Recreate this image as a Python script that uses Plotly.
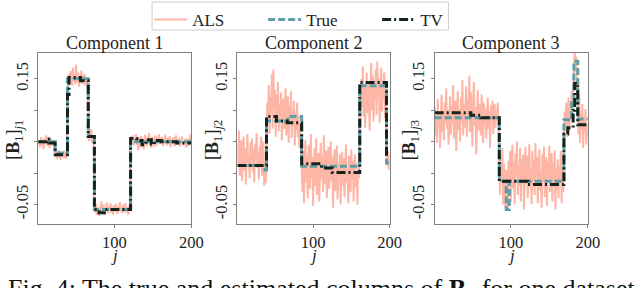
import plotly.graph_objects as go

# ---------------- data ----------------
j = list(range(1, 201))

als_1 = [0.046, 0.052, 0.041, 0.049, 0.057, 0.044, 0.050, 0.038, 0.055, 0.047, 0.060, 0.052, 0.043, 0.058, 0.049, 0.040, 0.054, 0.046, 0.051, 0.043,
         0.048, 0.036, 0.027, 0.034, 0.022, 0.030, 0.025, 0.036, 0.028, 0.021, 0.033, 0.026, 0.031, 0.024, 0.035, 0.029, 0.023, 0.032, 0.128, 0.146,
         0.158, 0.143, 0.162, 0.151, 0.139, 0.168, 0.147, 0.156, 0.141, 0.172, 0.150, 0.144, 0.160, 0.137, 0.153, 0.148, 0.163, 0.142, 0.155, 0.146,
         0.158, 0.139, 0.151, 0.143, 0.149, 0.062, 0.051, 0.066, 0.055, 0.070, 0.048, 0.059, 0.053, -0.052, -0.063, -0.049, -0.066, -0.055, -0.060, -0.068,
         -0.054, -0.062, -0.045, -0.065, -0.058, -0.050, -0.067, -0.056, -0.061, -0.047, -0.059, -0.064, -0.052, -0.060, -0.048, -0.063, -0.057, -0.066, -0.051, -0.059,
         -0.062, -0.049, -0.058, -0.065, -0.053, -0.060, -0.046, -0.061, -0.055, -0.064, -0.050, -0.059, -0.062, -0.048, -0.057, -0.063, -0.054, -0.066, -0.052, -0.060,
         0.047, 0.058, 0.052, 0.060, 0.044, 0.055, 0.049, 0.062, 0.045, 0.053, 0.036, 0.057, 0.048, 0.041, 0.059, 0.046, 0.054, 0.038, 0.051, 0.061,
         0.049, 0.043, 0.056, 0.050, 0.064, 0.045, 0.053, 0.040, 0.058, 0.047, 0.055, 0.042, 0.060, 0.051, 0.044, 0.057, 0.048, 0.062, 0.046, 0.053,
         0.050, 0.058, 0.043, 0.055, 0.047, 0.061, 0.049, 0.044, 0.056, 0.052, 0.046, 0.059, 0.041, 0.054, 0.050, 0.047, 0.057, 0.043, 0.052, 0.060,
         0.045, 0.053, 0.049, 0.056, 0.042, 0.051, 0.047, 0.058, 0.044, 0.050, 0.046, 0.054, 0.041, 0.049, 0.055, 0.043, 0.048, 0.052, 0.062, 0.050]

als_2 = [0.045, 0.012, 0.068, -0.005, 0.031, 0.052, -0.012, 0.024, 0.058, 0.004, 0.040, -0.018, 0.035, 0.062, 0.010, 0.027, -0.008, 0.049, 0.018, 0.055,
         0.002, 0.038, -0.015, 0.046, 0.021, 0.064, 0.008, 0.033, -0.010, 0.042, 0.015, 0.058, -0.004, 0.026, 0.050, -0.020, 0.019, -0.016, 0.070, 0.112,
         0.085, 0.140, 0.062, 0.120, 0.095, 0.158, 0.071, 0.165, 0.102, 0.132, 0.058, 0.125, 0.088, 0.145, 0.066, 0.110, 0.080, 0.128, 0.052, 0.098,
         0.118, 0.070, 0.105, 0.135, 0.060, 0.092, 0.122, 0.048, 0.108, 0.083, 0.130, 0.056, 0.100, 0.075, 0.115, 0.044, 0.095, 0.068, 0.112, 0.057,
         0.090, 0.040, 0.078, 0.050, 0.008, -0.030, 0.035, -0.048, 0.020, 0.052, -0.015, 0.030, -0.040, 0.045, 0.005, -0.025, 0.062, -0.008, 0.025, -0.052,
         0.015, 0.040, -0.020, 0.055, -0.035, 0.010, 0.032, -0.045, 0.022, 0.048, -0.010, 0.028, -0.030, 0.060, 0.002, -0.018, 0.036, -0.040, 0.018, 0.042,
         -0.025, 0.012, 0.050, -0.012, 0.026, -0.055, 0.008, 0.038, -0.028, 0.020, 0.044, -0.042, 0.015, -0.005, 0.030, -0.050, 0.010, 0.034, -0.020, 0.024,
         -0.038, 0.016, 0.046, -0.015, 0.005, -0.048, 0.028, 0.012, -0.030, 0.038, -0.010, 0.020, -0.045, 0.008, 0.030, -0.022, 0.002, -0.050, 0.018, -0.008,
         0.120, 0.085, 0.150, 0.105, 0.170, 0.090, 0.138, 0.072, 0.128, 0.160, 0.095, 0.145, 0.110, 0.068, 0.132, 0.175, 0.100, 0.155, 0.082, 0.140,
         0.118, 0.165, 0.092, 0.178, 0.125, 0.150, 0.080, 0.135, 0.168, 0.098, 0.142, 0.115, 0.160, 0.088, 0.130, 0.040, 0.012, 0.035, 0.005, 0.028]

als_3 = [0.105, 0.060, 0.092, 0.048, 0.118, 0.075, 0.098, 0.040, 0.085, 0.125, 0.066, 0.095, 0.052, 0.112, 0.080, 0.135, 0.070, 0.100, 0.045, 0.090,
         0.122, 0.062, 0.108, 0.078, 0.140, 0.055, 0.095, 0.115, 0.035, 0.088, 0.130, 0.068, 0.102, 0.050, 0.120, 0.082, 0.148, 0.060, 0.110, 0.072,
         0.098, 0.138, 0.058, 0.118, 0.085, 0.155, 0.065, 0.128, 0.092, 0.042, 0.115, 0.145, 0.075, 0.105, 0.030, 0.098, 0.132, 0.068, 0.110, 0.085,
         0.060, 0.125, 0.095, 0.048, 0.112, 0.078, 0.102, 0.055, 0.092, 0.120, 0.070, 0.098, 0.040, 0.108, 0.082, 0.115, 0.062, 0.095, 0.110, 0.072,
         0.100, 0.088, 0.112, 0.075, 0.010, -0.035, 0.025, -0.010, 0.040, -0.050, 0.015, -0.028, -0.055, 0.005, -0.040, -0.060, 0.020, -0.015, 0.035, -0.045,
         0.008, 0.045, -0.025, 0.018, -0.050, 0.032, -0.005, 0.050, -0.035, 0.012, -0.020, 0.040, -0.045, 0.022, -0.008, 0.030, -0.058, 0.015, 0.042, -0.018,
         0.028, -0.040, 0.010, 0.046, -0.022, 0.005, -0.050, 0.035, -0.012, 0.020, -0.035, 0.048, -0.005, 0.025, -0.048, 0.012, 0.038, -0.028, 0.002, -0.055,
         0.030, -0.015, 0.042, -0.038, 0.010, 0.025, -0.052, 0.018, -0.008, 0.044, -0.030, 0.006, 0.032, -0.045, 0.015, -0.020, 0.036, -0.058, 0.008, -0.025,
         0.022, -0.040, 0.012, -0.010, 0.035, -0.048, 0.005, -0.030, 0.060, 0.098, 0.075, 0.112, 0.058, 0.095, 0.120, 0.068, 0.105, 0.085, 0.130, 0.115,
         0.150, 0.175, 0.192, 0.160, 0.185, 0.140, 0.108, 0.062, 0.125, 0.048, 0.095, 0.070, 0.110, 0.040, 0.088, 0.065, 0.102, 0.045, 0.078, 0.058]

# piecewise-constant series: segment start index j and value (last entry closes at j=200)
true_1_j = [1, 23, 39, 66, 74, 121, 200]
true_1_v = [0.050, 0.032, 0.150, 0.058, -0.058, 0.050, 0.050]
tv_1_j = [1, 12, 15, 23, 39, 41, 56, 66, 74, 80, 87, 121, 129, 136, 141, 148, 152, 161, 181, 200]
tv_1_v = [0.050, 0.054, 0.048, 0.029, 0.125, 0.152, 0.147, 0.058, -0.058, -0.063, -0.058, 0.055, 0.052, 0.045, 0.053, 0.046, 0.052, 0.050, 0.048, 0.048]

true_2_j = [1, 37, 39, 67, 85, 161, 196, 200]
true_2_v = [0.012, 0.005, 0.083, 0.090, 0.011, 0.139, 0.016, 0.016]
tv_2_j = [1, 39, 52, 66, 85, 111, 125, 161, 196, 200]
tv_2_v = [0.012, 0.090, 0.083, 0.080, 0.015, 0.008, 0.001, 0.144, 0.030, 0.030]

true_3_j = [1, 85, 94, 98, 169, 179, 182, 187, 200]
true_3_v = [0.088, -0.013, -0.058, -0.013, 0.085, 0.115, 0.178, 0.086, 0.086]
tv_3_j = [1, 48, 61, 85, 122, 169, 174, 181, 183, 187, 200]
tv_3_v = [0.096, 0.092, 0.088, -0.013, -0.018, 0.062, 0.072, 0.100, 0.143, 0.077, 0.077]

titles = ["Component 1", "Component 2", "Component 3"]
y_tick_vals = [-0.05, 0.0, 0.05, 0.10, 0.15]
y_tick_text = ["-0.05", "", "", "", "0.15"]
x_tick_vals = [100, 200]
x_tick_text = ["100", "200"]
legend_names = ["ALS", "True", "TV"]

# ---------------- styling ----------------
W, H = 640, 288
FONT = "Liberation Serif"
C_ALS = "#fdb5a6"
C_TRUE = "#5f9ea6"
C_TV = "#14231d"
FRAME = "#7f7f7f"

px_x = [(39, 195), (242, 397), (443, 599)]
px_y = (53, 224)

fig = go.Figure()

als_all = [als_1, als_2, als_3]
true_all = [(true_1_j, true_1_v), (true_2_j, true_2_v), (true_3_j, true_3_v)]
tv_all = [(tv_1_j, tv_1_v), (tv_2_j, tv_2_v), (tv_3_j, tv_3_v)]

for k in range(3):
    xa = "x" if k == 0 else f"x{k+1}"
    ya = "y" if k == 0 else f"y{k+1}"
    show = k == 0
    fig.add_trace(go.Scatter(x=j[:len(als_all[k])], y=als_all[k], mode="lines",
                             line=dict(color=C_ALS, width=2), name=legend_names[0],
                             legendgroup="als", showlegend=show, xaxis=xa, yaxis=ya))
    fig.add_trace(go.Scatter(x=true_all[k][0], y=true_all[k][1], mode="lines", line_shape="hv",
                             line=dict(color=C_TRUE, width=3, dash="7px,3px"), name=legend_names[1],
                             legendgroup="true", showlegend=show, xaxis=xa, yaxis=ya))
    fig.add_trace(go.Scatter(x=tv_all[k][0], y=tv_all[k][1], mode="lines", line_shape="hv",
                             line=dict(color=C_TV, width=3, dash="9px,3px,2px,3px"), name=legend_names[2],
                             legendgroup="tv", showlegend=show, xaxis=xa, yaxis=ya))

axis_common = dict(showline=True, mirror=True, linecolor=FRAME, linewidth=1, ticks="outside",
                   ticklen=3, tickcolor=FRAME, showgrid=False, zeroline=False,
                   tickfont=dict(family=FONT, size=16.5, color="#222"))

ydom = [1 - px_y[1] / H, 1 - px_y[0] / H]
layout = dict(width=W, height=H, margin=dict(l=0, r=0, t=0, b=0),
              plot_bgcolor="white", paper_bgcolor="white", showlegend=True,
              legend=dict(orientation="h", x=152 / W, xanchor="left", y=1 - 2 / H, yanchor="top",
                          bordercolor="rgba(0,0,0,0)", borderwidth=0, bgcolor="rgba(0,0,0,0)",
                          font=dict(family=FONT, size=17, color="#222"),
                          itemwidth=33, tracegroupgap=0, entrywidth=66))

# legend frame (box around the legend entries)
shapes = [dict(type="rect", xref="paper", yref="paper", x0=155 / W, x1=457 / W,
               y0=1 - 30 / H, y1=1 - 2 / H, line=dict(color="#cccccc", width=1),
               fillcolor="rgba(0,0,0,0)", layer="below")]

annotations = []
for k in range(3):
    xk = "xaxis" if k == 0 else f"xaxis{k+1}"
    yk = "yaxis" if k == 0 else f"yaxis{k+1}"
    xd = [px_x[k][0] / W, px_x[k][1] / W]
    layout[xk] = dict(axis_common, domain=xd, range=[1, 200], tickvals=x_tick_vals,
                      ticktext=x_tick_text, anchor="y" if k == 0 else f"y{k+1}")
    layout[yk] = dict(axis_common, domain=ydom, range=[-0.081, 0.191], tickvals=y_tick_vals,
                      ticktext=y_tick_text, tickangle=-90,
                      anchor="x" if k == 0 else f"x{k+1}")
    cx = (px_x[k][0] + px_x[k][1]) / 2 / W
    annotations.append(dict(text=titles[k], x=cx, y=1 - 43 / H, xref="paper", yref="paper",
                            xanchor="center", yanchor="middle", showarrow=False,
                            font=dict(family=FONT, size=18, color="#222")))
    annotations.append(dict(text="<i>j</i>", x=cx, y=1 - 255 / H, xref="paper", yref="paper",
                            xanchor="center", yanchor="middle", showarrow=False,
                            font=dict(family=FONT, size=17, color="#222")))
    annotations.append(dict(text=f"[<b>B</b><sub>1</sub>]<sub><i>j</i>{k+1}</sub>",
                            x=(px_x[k][0] - 25) / W, y=1 - 140 / H, xref="paper", yref="paper",
                            xanchor="center", yanchor="middle", textangle=-90, showarrow=False,
                            font=dict(family=FONT, size=18, color="#222")))

annotations.append(dict(text="Fig. 4: The true and estimated columns of <b>B</b><sub>1</sub> for one dataset",
                        x=6 / W, y=1 - 272 / H, xref="paper", yref="paper", xanchor="left",
                        yanchor="top", showarrow=False, font=dict(family=FONT, size=26, color="#111")))
layout["annotations"] = annotations
layout["shapes"] = shapes

fig.update_layout(**layout)
fig.write_html("out.html", config={"displayModeBar": False},
               post_script="document.body.style.margin='0';document.body.style.overflow='hidden';")
